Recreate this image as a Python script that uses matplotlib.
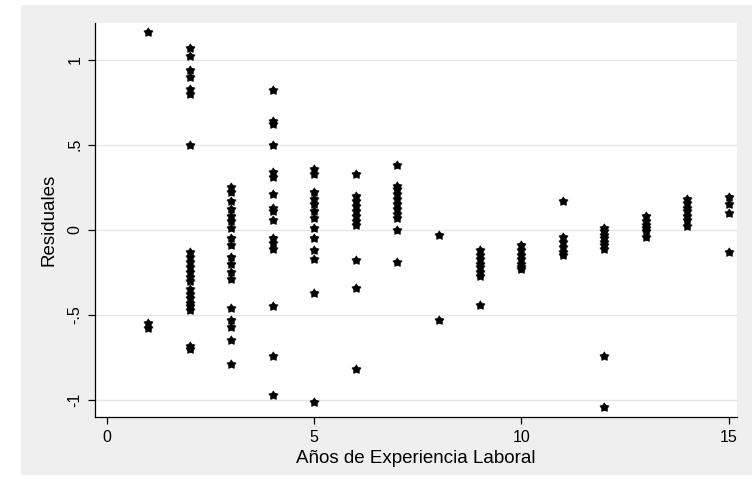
import numpy as np
import matplotlib.pyplot as plt
from matplotlib.patches import Rectangle

plt.rcParams['font.family'] = ['Liberation Sans', 'DejaVu Sans']

# residuales por años de experiencia
exp_1 = [1.16, -0.55, -0.58]
exp_2 = [1.07, 1.02, 0.94, 0.90, 0.83, 0.80, 0.50,
         -0.13, -0.16, -0.19, -0.22, -0.25, -0.28, -0.30, -0.35, -0.38,
         -0.40, -0.43, -0.45, -0.47, -0.68, -0.70]
exp_3 = [0.25, 0.22, 0.17, 0.12, 0.08, 0.05, 0.01, -0.05, -0.09, -0.16,
         -0.20, -0.25, -0.29, -0.46, -0.53, -0.57, -0.65, -0.79]
exp_4 = [0.82, 0.64, 0.62, 0.50, 0.34, 0.31, 0.21, 0.13, 0.11, 0.06,
         -0.05, -0.08, -0.11, -0.45, -0.74, -0.97]
exp_5 = [0.36, 0.33, 0.22, 0.18, 0.15, 0.11, 0.07, 0.01, -0.05, -0.12,
         -0.17, -0.37, -1.01]
exp_6 = [0.33, 0.20, 0.17, 0.14, 0.11, 0.08, 0.05, 0.03, -0.18, -0.34, -0.82]
exp_7 = [0.38, 0.26, 0.24, 0.21, 0.18, 0.15, 0.12, 0.09, 0.07, 0.00, -0.19]
exp_8 = [-0.03, -0.53]
exp_9 = [-0.12, -0.15, -0.17, -0.20, -0.22, -0.25, -0.27, -0.44]
exp_10 = [-0.09, -0.12, -0.15, -0.17, -0.20, -0.22, -0.23]
exp_11 = [0.17, -0.04, -0.07, -0.10, -0.13, -0.15]
exp_12 = [0.01, -0.01, -0.03, -0.05, -0.07, -0.09, -0.11, -0.74, -1.04]
exp_13 = [0.08, 0.05, 0.03, 0.01, -0.01, -0.04]
exp_14 = [0.18, 0.16, 0.13, 0.11, 0.08, 0.06, 0.02]
exp_15 = [0.19, 0.15, 0.10, -0.13]

residuals_by_year = [exp_1, exp_2, exp_3, exp_4, exp_5, exp_6, exp_7, exp_8,
                     exp_9, exp_10, exp_11, exp_12, exp_13, exp_14, exp_15]

x_ticks = [0, 5, 10, 15]
y_ticks = [-1, -0.5, 0, 0.5, 1]
y_labels = ['-1', '-.5', '0', '.5', '1']

xs = []
ys = []
for year, vals in enumerate(residuals_by_year, start=1):
    xs += [year] * len(vals)
    ys += vals

# estrella gruesa (parecida al marcador de Stata)
ang = np.pi / 2 + np.arange(10) * np.pi / 5
rad = np.where(np.arange(10) % 2 == 0, 1.0, 0.62)
star = list(zip(rad * np.cos(ang), rad * np.sin(ang)))

fig = plt.figure(figsize=(7.52, 4.79), dpi=100)
# fondo gris de la región del gráfico
fig.patches.append(Rectangle((21 / 752, 4 / 479), 1 - 21 / 752, 470 / 479,
                             transform=fig.transFigure, facecolor='#efefef',
                             edgecolor='none', zorder=-10))

ax = fig.add_axes([95 / 752, 62 / 479, 642 / 752, 394 / 479])
ax.set_zorder(1)
ax.set_facecolor('white')
ax.scatter(xs, ys, marker=star, s=48, color='black', linewidths=0.4,
           edgecolors='black', zorder=3)

ax.set_xlim(-0.29, 15.2)
ax.set_ylim(-1.10, 1.215)
ax.set_xticks(x_ticks)
ax.set_yticks(y_ticks)
ax.set_yticklabels(y_labels, rotation=90, va='center')
ax.tick_params(axis='both', direction='out', length=5, width=0.9,
               labelsize=11.5, colors='black')
ax.tick_params(axis='x', pad=4)
ax.tick_params(axis='y', pad=4)

ax.grid(axis='y', color='#e6e6e2', linewidth=1)
ax.set_axisbelow(True)
for side in ['top', 'right']:
    ax.spines[side].set_visible(False)
for side in ['left', 'bottom']:
    ax.spines[side].set_linewidth(0.9)

ax.set_xlabel('Años de Experiencia Laboral', fontsize=13.5, labelpad=4)
ax.set_ylabel('Residuales', fontsize=13.5, labelpad=7)

fig.savefig('out.png', dpi=100)
